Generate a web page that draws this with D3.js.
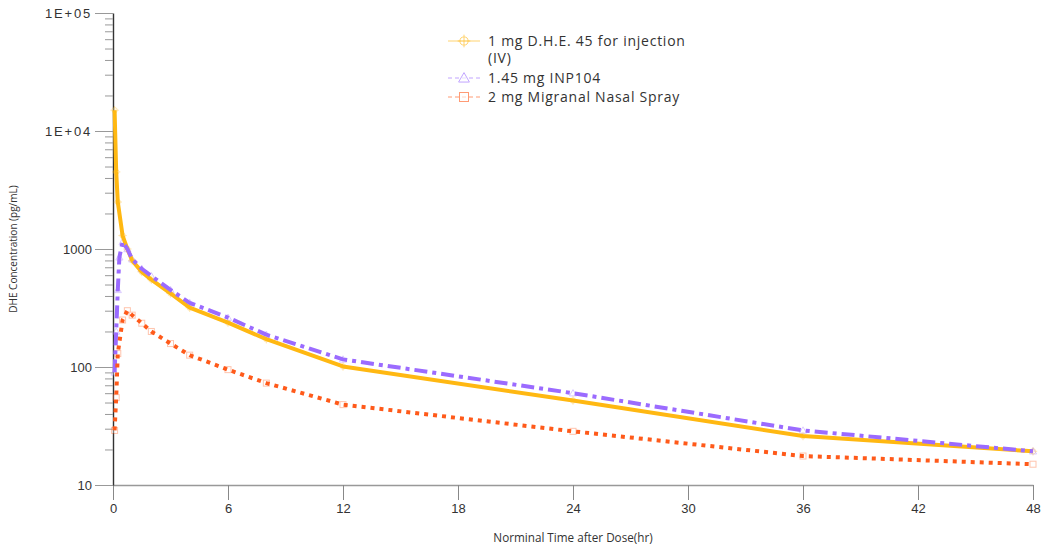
<!DOCTYPE html>
<html>
<head>
<meta charset="utf-8">
<script src="https://cdn.jsdelivr.net/npm/d3@7"></script>
<style>
  html, body { margin: 0; padding: 0; background: #fff; }
  svg { display: block; font-family: "Open Sans", "Noto Sans", sans-serif; }
</style>
</head>
<body>
<svg id="chart" width="1044" height="550"></svg>
<script>
// ---- data ----
const seriesNames = ["1 mg D.H.E. 45 for injection (IV)", "1.45 mg INP104", "2 mg Migranal Nasal Spray"];
const legendLines = [["1 mg D.H.E. 45 for injection", "(IV)"], ["1.45 mg INP104"], ["2 mg Migranal Nasal Spray"]];
const ivTimes  = [0.083, 0.167, 0.25, 0.5, 0.75, 1, 1.5, 2, 3, 4, 6, 8, 12, 24, 36, 48];
const ivConc   = [15000, 4500, 2500, 1300, 1000, 800, 640, 550, 420, 318, 238, 172, 101, 52, 26, 19.3];
const inpTimes = [0.083, 0.167, 0.25, 0.333, 0.5, 0.75, 1, 1.5, 2, 3, 4, 6, 8, 12, 24, 36, 48];
const inpConc  = [90, 200, 450, 850, 1150, 1000, 820, 680, 590, 450, 350, 262, 188, 116, 60, 29, 19.3];
const migTimes = [0.083, 0.167, 0.25, 0.5, 0.75, 1, 1.5, 2, 3, 4, 6, 8, 12, 24, 36, 48];
const migConc  = [29, 55, 130, 250, 300, 275, 235, 200, 158, 126, 95, 73, 48, 28.5, 17.6, 15];
const xTicks = [0, 6, 12, 18, 24, 30, 36, 42, 48];
const yMajorTicks = [10, 100, 1000, 10000, 100000];
const yMajorLabels = ["10", "100", "1000", "1E+04", "1E+05"];
const xTitle = "Norminal Time after Dose(hr)";
const yTitle = "DHE Concentration (pg/mL)";

// ---- styles ----
const colors = ["#FFB812", "#9B6BFF", "#FF5A1A"];
const dashes = [null, "13,5,4,5", "4,5"];
const legendDashes = [null, "4,3", "4,3"];
const markerTypes = ["circle", "triangle", "square"];

const svg = d3.select("#chart");
const W = 1044, H = 550;
const margin = {left: 113, right: 11, top: 13, bottom: 65};

const x = d3.scaleLinear().domain([0, 48]).range([margin.left, W - margin.right]);
const y = d3.scaleLog().domain([10, 100000]).range([H - margin.bottom, margin.top]);

// y ticks: majors + minors
const yAll = [];
for (let d = 10; d < 100000; d *= 10) {
  for (let k = 1; k < 10; k++) yAll.push(d * k);
}
yAll.push(100000);
const isMajor = v => yMajorTicks.some(m => Math.abs(m - v) / m < 1e-9);

// x axis
const gx = svg.append("g")
  .attr("transform", `translate(0,${H - margin.bottom})`)
  .call(d3.axisBottom(x).tickValues(xTicks).tickSize(15).tickSizeOuter(0).tickPadding(4));
gx.select(".domain").attr("stroke", "#999").attr("stroke-width", 1.6);
gx.selectAll(".tick line").attr("stroke", "#888");
gx.selectAll(".tick text").attr("fill", "#333").style("font-size", "13px");

// y axis
const gy = svg.append("g")
  .attr("transform", `translate(${margin.left},0)`)
  .call(d3.axisLeft(y).tickValues(yAll).tickSize(18).tickSizeOuter(0).tickPadding(3)
    .tickFormat(v => { const i = yMajorTicks.findIndex(m => Math.abs(m - v) / m < 1e-9); return i >= 0 ? yMajorLabels[i] : ""; }));
gy.select(".domain").attr("stroke", "#333").attr("stroke-width", 1.4);
gy.selectAll(".tick line").attr("stroke", "#999").attr("x2", d => isMajor(d) ? -18 : -8);
gy.selectAll(".tick text").attr("fill", "#333").style("font-size", "13px")
  .style("letter-spacing", d => d >= 10000 ? "1.8px" : null);

// axis titles
svg.append("text")
  .attr("x", (margin.left + W - margin.right) / 2).attr("y", 542)
  .attr("text-anchor", "middle").attr("fill", "#333").style("font-size", "11.7px")
  .text(xTitle);
svg.append("text")
  .attr("transform", `translate(17,${(margin.top + H - margin.bottom) / 2}) rotate(-90)`)
  .attr("text-anchor", "middle").attr("fill", "#333").style("font-size", "10px")
  .text(yTitle);

// series
const series = [
  {times: ivTimes, conc: ivConc},
  {times: inpTimes, conc: inpConc},
  {times: migTimes, conc: migConc}
];
const line = d3.line().x(d => x(d[0])).y(d => y(d[1]));

function drawMarker(g, type, cx, cy, color, size, fill) {
  if (type === "circle") {
    g.append("circle").attr("cx", cx).attr("cy", cy).attr("r", size * 0.45)
      .attr("fill", fill).attr("stroke", color).attr("stroke-width", 1);
    g.append("path").attr("d", `M${cx - size * 0.7},${cy}H${cx + size * 0.7}M${cx},${cy - size * 0.7}V${cy + size * 0.7}`)
      .attr("stroke", color).attr("stroke-width", 1);
  } else if (type === "triangle") {
    const s = size;
    g.append("path").attr("d", `M${cx},${cy - s * 0.6}L${cx + s * 0.6},${cy + s * 0.45}L${cx - s * 0.6},${cy + s * 0.45}Z`)
      .attr("fill", fill).attr("stroke", color).attr("stroke-width", 1);
  } else {
    const s = size;
    g.append("rect").attr("x", cx - s / 2).attr("y", cy - s / 2).attr("width", s).attr("height", s)
      .attr("fill", fill).attr("stroke", color).attr("stroke-width", 1);
  }
}

// markers (mostly hidden under the thick lines)
series.forEach((s, i) => {
  const g = svg.append("g").attr("opacity", 0.35);
  s.times.forEach((t, j) => {
    drawMarker(g, markerTypes[i], x(t), y(s.conc[j]), colors[i], 6, "#fff");
  });
});
series.forEach((s, i) => {
  const pts = s.times.map((t, j) => [t, s.conc[j]]);
  svg.append("path").datum(pts)
    .attr("d", line)
    .attr("fill", "none")
    .attr("stroke", colors[i])
    .attr("stroke-width", 4)
    .attr("stroke-dasharray", dashes[i])
    .attr("stroke-linejoin", "round");
});

// legend
const legendX = 448, legendLineLen = 32, textX = 488;
const rowY = [[41, 58], [78], [97]];
legendLines.forEach((lines, i) => {
  const g = svg.append("g");
  const cy = rowY[i][0];
  g.append("line").attr("x1", legendX).attr("x2", legendX + legendLineLen)
    .attr("y1", cy).attr("y2", cy)
    .attr("stroke", colors[i]).attr("stroke-width", 1).attr("opacity", 0.6)
    .attr("stroke-dasharray", legendDashes[i]);
  const mg = g.append("g").attr("opacity", 0.6);
  drawMarker(mg, markerTypes[i], legendX + legendLineLen / 2, cy, colors[i], 9, "#fff");
  lines.forEach((txt, k) => {
    g.append("text").attr("x", textX).attr("y", rowY[i][k]).attr("dy", "0.35em")
      .attr("fill", "#333").style("font-size", "14px").style("letter-spacing", "0.75px").text(txt);
  });
});
</script>
</body>
</html>
